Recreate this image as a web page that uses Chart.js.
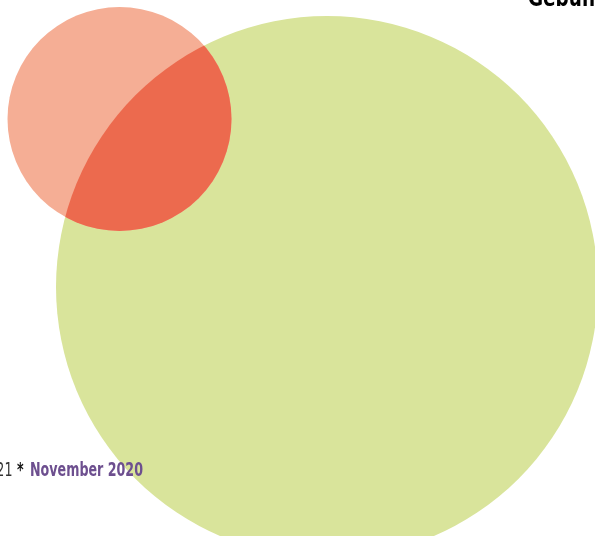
<!DOCTYPE html>
<html>
<head>
<meta charset="utf-8">
<script src="https://cdn.jsdelivr.net/npm/chart.js@4"></script>
<style>
  html, body { margin: 0; padding: 0; background: #fff; }
  #wrap { width: 595px; height: 536px; position: relative; overflow: hidden; }
</style>
</head>
<body>
<div id="wrap"><canvas id="venn" width="595" height="536"></canvas></div>
<script>
// Venn-Kreise (Mittelpunkt in Diagrammeinheiten, Radius)
const sets = ['Gebühr', 'Andere'];
const centerX = [327, 119.5];
const centerY = [287, 119];
const radius = [271, 112];
const colors = ['#d9e49b', '#f5ae95'];
const overlapColor = '#ec6a4e';

// Beschriftungen
const titleText = 'Gebühr';
const footerDay = '21';
const footerStar = '*';
const footerDate = 'November 2020';
const FONT = '"DejaVu Sans", sans-serif';

// Text schmaler zeichnen (Schrift ist im Original "condensed")
function drawNarrow(ctx, text, x, y, sx, align) {
    ctx.save();
    ctx.translate(x, y);
    ctx.scale(sx, 1);
    ctx.textAlign = align || 'left';
    ctx.fillText(text, 0, 0);
    ctx.restore();
}

// Schnittmenge: kleinen Kreis innerhalb des großen Kreises neu einfärben
const overlapPlugin = {
    id: 'overlap',
    afterDatasetsDraw(chart) {
        const big = chart.getDatasetMeta(1).data[0];
        const small = chart.getDatasetMeta(0).data[0];
        const ctx = chart.ctx;
        ctx.save();
        ctx.beginPath();
        ctx.arc(big.x, big.y, big.options.radius, 0, Math.PI * 2);
        ctx.clip();
        ctx.beginPath();
        ctx.arc(small.x, small.y, small.options.radius, 0, Math.PI * 2);
        ctx.fillStyle = overlapColor;
        ctx.fill();
        ctx.restore();

        ctx.save();
        ctx.textBaseline = 'alphabetic';

        // Titel oben rechts (abgeschnitten)
        ctx.font = 'bold 24px ' + FONT;
        ctx.fillStyle = '#000';
        let sxT = 67 / ctx.measureText('Gebüh').width;
        drawNarrow(ctx, titleText, 528, 6, sxT);

        // Fußzeile
        ctx.font = 'bold 20px ' + FONT;
        let sx = 113 / ctx.measureText(footerDate).width;
        ctx.fillStyle = '#6d4f8f';
        drawNarrow(ctx, footerDate, 30, 476, sx);
        ctx.fillStyle = '#111';
        drawNarrow(ctx, footerStar, 17, 476, sx);
        ctx.font = '20px ' + FONT;
        ctx.fillStyle = '#333';
        drawNarrow(ctx, footerDay, 12.5, 476, sx, 'right');
        ctx.restore();
    }
};

const ctxVenn = document.getElementById('venn').getContext('2d');
new Chart(ctxVenn, {
    type: 'bubble',
    data: {
        datasets: [
            {
                label: sets[1],
                data: [{ x: centerX[1], y: centerY[1], r: radius[1] }],
                backgroundColor: colors[1],
                borderWidth: 0,
                clip: false
            },
            {
                label: sets[0],
                data: [{ x: centerX[0], y: centerY[0], r: radius[0] }],
                backgroundColor: colors[0],
                borderWidth: 0,
                clip: false
            }
        ]
    },
    options: {
        responsive: false,
        animation: false,
        layout: { padding: 0, autoPadding: false },
        plugins: { legend: { display: false }, tooltip: { enabled: false } },
        events: [],
        scales: {
            x: { type: 'linear', min: 0, max: 595, display: false },
            y: { type: 'linear', min: 0, max: 536, reverse: true, display: false }
        }
    },
    plugins: [overlapPlugin]
});
</script>
</body>
</html>
